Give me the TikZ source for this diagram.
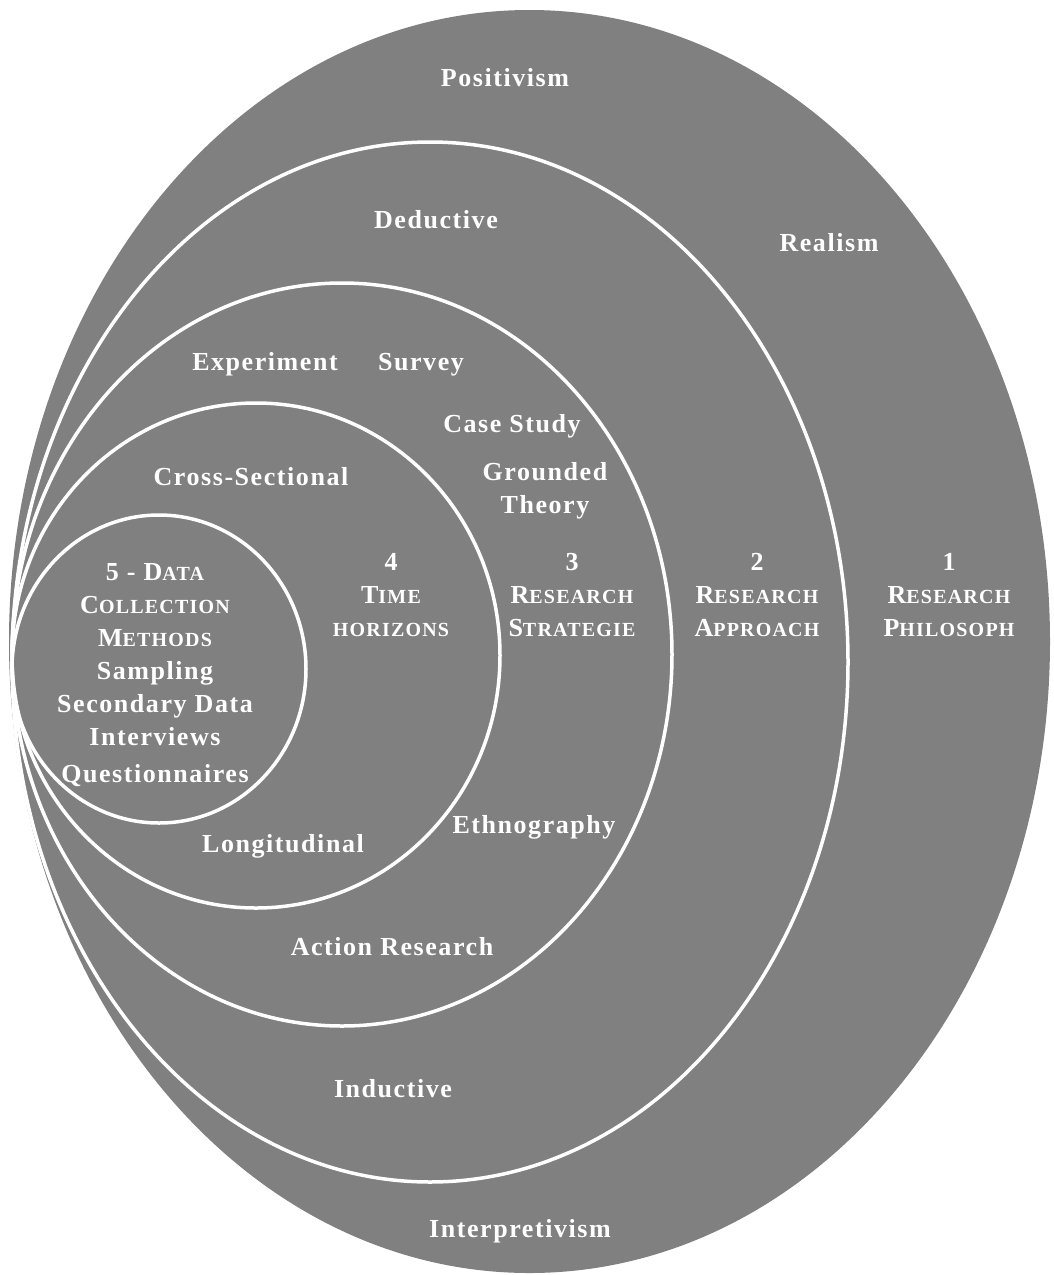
\documentclass[tikz,border=0pt]{standalone}
\usepackage{fontspec}
\newfontfamily\labfont{Liberation Serif}[LetterSpace=6]
\definecolor{onion}{RGB}{128,128,128}
% reduced capitals for the layer titles
\newcommand\smc[1]{{\fontsize{20}{33}\selectfont #1}}
\begin{document}
\begin{tikzpicture}[x=1pt,y=-1pt,
  shell/.style={draw=white,line width=3.5pt},
  lbl/.style={text=white,inner sep=0pt,anchor=base,align=center,
    font=\labfont\bfseries\fontsize{26}{33}\selectfont}]
\fill[white] (0,0) rectangle (1053,1275);
\useasboundingbox (0,0) rectangle (1053,1275);

% the layers of the onion, outermost first
\fill[onion] (529.5,641.5) ellipse [x radius=520.5,y radius=631.5];
\draw[shell] (430,662) ellipse [x radius=418,y radius=520];
\draw[shell] (342,654.5) ellipse [x radius=330,y radius=371.5];
\draw[shell] (256,655.5) ellipse [x radius=244,y radius=252.5];
\draw[shell] (159,669) ellipse [x radius=147,y radius=154];

% labels sit on the baseline of their last line

% layer 1: research philosophy
\node[lbl] (positivism) at (505,86) {Positivism};
\node[lbl] (realism) at (829,251) {Realism};
\node[lbl] (interpretivism) at (520,1237) {Interpretivism};
\node[lbl] (philosophy) at (949,636) {1\\R\smc{ESEARCH}\\P\smc{HILOSOPH}};

% layer 2: research approach
\node[lbl] (deductive) at (436,228) {Deductive};
\node[lbl] (inductive) at (393,1097) {Inductive};
\node[lbl] (approach) at (757,636) {2\\R\smc{ESEARCH}\\A\smc{PPROACH}};

% layer 3: research strategies
\node[lbl] (experiment) at (265,370) {Experiment};
\node[lbl] (survey) at (421,370) {Survey};
\node[lbl] (casestudy) at (512,432) {Case Study};
\node[lbl] (grounded) at (545,513) {Grounded\\Theory};
\node[lbl] (ethnography) at (534,833) {Ethnography};
\node[lbl] (action) at (392,955) {Action Research};
\node[lbl] (strategies) at (572,636) {3\\R\smc{ESEARCH}\\S\smc{TRATEGIE}};

% layer 4: time horizons
\node[lbl] (cross) at (251,485) {Cross-Sectional};
\node[lbl] (longitudinal) at (283,852) {Longitudinal};
\node[lbl] (horizons) at (391,636) {4\\T\smc{IME}\\\smc{HORIZONS}};

% layer 5: data collection
\node[lbl] (collection) at (155,782)
  {5 - D\smc{ATA}\\C\smc{OLLECTION}\\M\smc{ETHODS}\\Sampling\\Secondary Data\\Interviews\\[4pt]Questionnaires};
\end{tikzpicture}
\end{document}
